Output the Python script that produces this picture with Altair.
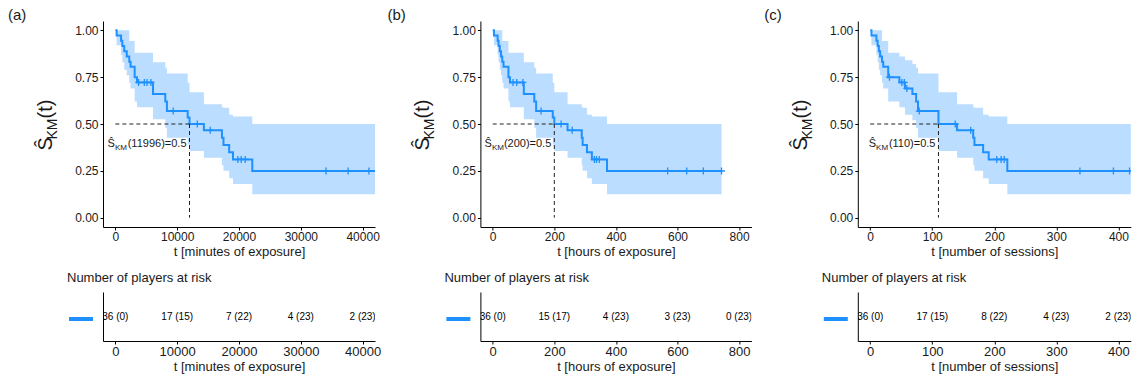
import altair as alt
import pandas as pd

FONT = "Liberation Sans"
BLUE = "#1E90FF"
INK = "#1a1a1a"

# ---------------- data ----------------
PANEL_LABELS = ["(a)", "(b)", "(c)"]
X_TITLES = ["t [minutes of exposure]", "t [hours of exposure]", "t [number of sessions]"]
X_TICKS = [[0, 10000, 20000, 30000, 40000], [0, 200, 400, 600, 800], [0, 100, 200, 300, 400]]
MEDIANS = [11996, 200, 110]

# panel (a): minutes of exposure
A_T = [0, 205, 920, 1125, 1430, 1840, 2250, 2455, 3120, 3500, 6090, 8080, 8340, 11700, 11996,
       14320, 17240, 17490, 18410, 19030, 22150, 44000]
A_S = [1.000, 0.972, 0.944, 0.917, 0.889, 0.861, 0.833, 0.806, 0.750, 0.722, 0.660, 0.620, 0.569,
       0.535, 0.500, 0.466, 0.427, 0.388, 0.349, 0.311, 0.249, 0.249]
A_LO = [1.000, 0.920, 0.870, 0.830, 0.790, 0.760, 0.720, 0.690, 0.620, 0.590, 0.525, 0.480, 0.427,
        0.390, 0.356, 0.320, 0.280, 0.250, 0.210, 0.180, 0.125, 0.125]
A_HI = [1.000, 1.000, 1.000, 1.000, 1.000, 1.000, 0.943, 0.943, 0.880, 0.880, 0.830, 0.800, 0.770,
        0.720, 0.670, 0.605, 0.590, 0.587, 0.550, 0.540, 0.500, 0.500]
A_CT = [3765, 4685, 5115, 5760, 9360, 13250, 15350, 19820, 20360, 21000, 34070, 37650, 41020]
A_CS = [0.722, 0.722, 0.722, 0.722, 0.569, 0.500, 0.466, 0.311, 0.311, 0.311, 0.249, 0.249, 0.249]
A_RISK = ["36 (0)", "17 (15)", "7 (22)", "4 (23)", "2 (23)"]

# panel (b): hours of exposure
B_T = [0, 4, 16, 19, 23, 27, 31, 35, 51, 56, 101, 135, 141, 195, 200, 243, 289, 292, 306, 322,
       371, 743]
B_S = [1.000, 0.972, 0.944, 0.917, 0.889, 0.861, 0.833, 0.806, 0.750, 0.722, 0.660, 0.620, 0.569,
       0.535, 0.500, 0.466, 0.427, 0.388, 0.349, 0.311, 0.249, 0.249]
B_LO = [1.000, 0.920, 0.870, 0.830, 0.790, 0.760, 0.720, 0.690, 0.620, 0.590, 0.525, 0.480, 0.427,
        0.390, 0.356, 0.320, 0.280, 0.250, 0.210, 0.180, 0.125, 0.125]
B_HI = [1.000, 1.000, 1.000, 1.000, 1.000, 1.000, 0.943, 0.943, 0.880, 0.880, 0.830, 0.800, 0.770,
        0.720, 0.670, 0.605, 0.590, 0.587, 0.550, 0.540, 0.500, 0.500]
B_CT = [66, 78, 98, 157, 222, 258, 330, 337, 346, 568, 630, 684, 743]
B_CS = [0.722, 0.722, 0.722, 0.569, 0.500, 0.466, 0.311, 0.311, 0.311, 0.249, 0.249, 0.249, 0.249]
B_RISK = ["36 (0)", "15 (17)", "4 (23)", "3 (23)", "0 (23)"]

# panel (c): number of sessions
C_T = [0, 2, 10, 12, 14, 16, 19, 21, 29, 47, 56, 68, 74, 77, 110, 140, 166, 168, 182, 191, 221,
       440]
C_S = [1.000, 0.972, 0.944, 0.917, 0.889, 0.861, 0.833, 0.806, 0.750, 0.722, 0.690, 0.660, 0.620,
       0.569, 0.500, 0.466, 0.427, 0.388, 0.349, 0.311, 0.249, 0.249]
C_LO = [1.000, 0.920, 0.870, 0.830, 0.790, 0.760, 0.720, 0.690, 0.620, 0.590, 0.550, 0.520, 0.480,
        0.427, 0.356, 0.320, 0.280, 0.250, 0.210, 0.180, 0.125, 0.125]
C_HI = [1.000, 1.000, 1.000, 1.000, 1.000, 1.000, 0.943, 0.943, 0.880, 0.860, 0.840, 0.820, 0.800,
        0.770, 0.670, 0.605, 0.590, 0.587, 0.550, 0.540, 0.500, 0.500]
C_CT = [31, 51, 55, 59, 79, 137, 162, 204, 211, 216, 338, 392, 418]
C_CS = [0.750, 0.722, 0.722, 0.690, 0.569, 0.500, 0.466, 0.311, 0.311, 0.311, 0.249, 0.249, 0.249]
C_RISK = ["36 (0)", "17 (15)", "8 (22)", "4 (23)", "2 (23)"]

STEPS = [(A_T, A_S, A_LO, A_HI), (B_T, B_S, B_LO, B_HI), (C_T, C_S, C_LO, C_HI)]
CENS = [(A_CT, A_CS), (B_CT, B_CS), (C_CT, C_CS)]
RISK = [A_RISK, B_RISK, C_RISK]

# ---------------- layout (pixels / axis ranges) ----------------
X_DOMAINS = [[-2000, 42000], [-40, 840], [-20, 420]]
WIDTHS = [272, 271, 273]
KM_H = 206
RISK_H = 49
LABEL_X = [-95, -93, -93.5]
PANEL_STEP = 377.4

AW = {"(": .333, ")": .333, "=": .584, ".": .278, " ": .278, "K": .667, "M": .833}


def tw(s, size):
    return sum(AW.get(ch, .556) for ch in s) * size


def panel(i):
    t, s, lo, hi = STEPS[i]
    steps = pd.DataFrame({"t": t, "s": s, "lo": lo, "hi": hi})
    ct, cs = CENS[i]
    cens = pd.DataFrame({"t": ct, "s": cs})
    med = MEDIANS[i]
    mdf = pd.DataFrame({"x0": [0, med], "x1": [med, med], "y0": [0.5, 0.5], "y1": [0.5, 0.0]})
    adf = pd.DataFrame({"t": [med], "s": [0.5]})
    one = pd.DataFrame({"k": [0]})

    xsc = alt.Scale(domain=X_DOMAINS[i], nice=False, zero=False)
    ysc = alt.Scale(domain=[-0.05, 1.05], nice=False, zero=False)
    xax = alt.Axis(values=X_TICKS[i], title=X_TITLES[i], format="d", labelFontSize=12,
                   titleFontSize=13, tickSize=3, labelPadding=1, titlePadding=3)
    yax = alt.Axis(values=[0, 0.25, 0.5, 0.75, 1.0], format=".2f", title=None, labelFontSize=12,
                   tickSize=3, labelPadding=2)

    def X(f):
        return alt.X(f, scale=xsc, axis=xax)

    def Y(f):
        return alt.Y(f, scale=ysc, axis=yax)

    band = alt.Chart(steps).mark_area(interpolate="step-after", color=BLUE, opacity=0.3,
                                      clip=True).encode(x=X("t:Q"), y=Y("lo:Q"), y2="hi:Q")
    line = alt.Chart(steps).mark_line(interpolate="step-after", color=BLUE, strokeWidth=2,
                                      clip=True).encode(x=X("t:Q"), y=Y("s:Q"))
    cmark = alt.Chart(cens).mark_point(shape="M-1,0H1M0,-1V1", size=49, filled=False,
                                       strokeWidth=1.3, color=BLUE, opacity=1,
                                       clip=True).encode(x=X("t:Q"), y=Y("s:Q"))
    mrule = alt.Chart(mdf).mark_rule(color="#222222", strokeWidth=1, strokeDash=[4, 3]).encode(
        x=X("x0:Q"), x2="x1:Q", y=Y("y0:Q"), y2="y1:Q")

    main = f"({med})=0.5"
    w_main = tw(main, 11)
    w_km = tw("KM", 8)
    ann_main = alt.Chart(adf).mark_text(text=main, fontSize=11, font=FONT, color=INK, align="right",
                                        baseline="alphabetic", dx=-3, dy=23).encode(
        x=X("t:Q"), y=Y("s:Q"))
    ann_km = alt.Chart(adf).mark_text(text="KM", fontSize=8, font=FONT, color=INK, align="right",
                                      baseline="alphabetic", dx=-3 - w_main, dy=25.5).encode(
        x=X("t:Q"), y=Y("s:Q"))
    ann_s = alt.Chart(adf).mark_text(text="Ŝ", fontSize=11, font=FONT, color=INK, align="right",
                                     baseline="alphabetic", dx=-3 - w_main - w_km, dy=23).encode(
        x=X("t:Q"), y=Y("s:Q"))

    # rotated y-axis title  Ŝ_KM(t)
    y0 = KM_H / 2 + 26.6
    ts = alt.Chart(one).mark_text(text="Ŝ", fontSize=20, font=FONT, color=INK, angle=270,
                                  align="left", baseline="alphabetic").encode(
        x=alt.value(-51), y=alt.value(y0))
    y1 = y0 - tw("S", 20)
    tk = alt.Chart(one).mark_text(text="KM", fontSize=14, font=FONT, color=INK, angle=270,
                                  align="left", baseline="alphabetic").encode(
        x=alt.value(-46), y=alt.value(y1))
    y2 = y1 - tw("KM", 14)
    tt = alt.Chart(one).mark_text(text="(t)", fontSize=20, font=FONT, color=INK, angle=270,
                                  align="left", baseline="alphabetic").encode(
        x=alt.value(-51), y=alt.value(y2))

    plab = alt.Chart(one).mark_text(text=PANEL_LABELS[i], fontSize=15, font=FONT, color=INK,
                                    align="left", baseline="top").encode(
        x=alt.value(LABEL_X[i]), y=alt.value(-13.5))

    km = alt.layer(band, line, cmark, mrule, ann_main, ann_km, ann_s, ts, tk, tt, plab).properties(
        width=WIDTHS[i], height=KM_H)

    # risk table
    rdf = pd.DataFrame({"t": X_TICKS[i], "lab": RISK[i], "strata": ["All"] * 5})
    rxax = alt.Axis(values=X_TICKS[i], title=X_TITLES[i], format="d", labelFontSize=13,
                    titleFontSize=13, tickSize=3, labelPadding=1, titlePadding=2)
    ryax = alt.Axis(labels=False, ticks=False, title=None, domain=True)
    rx = alt.X("t:Q", scale=xsc, axis=rxax)
    ry = alt.Y("strata:N", axis=ryax)
    txt = alt.Chart(rdf).mark_text(fontSize=10, font=FONT, color="black", clip=True).encode(
        x=rx, y=ry, text="lab:N")
    key = alt.Chart(rdf).mark_line(opacity=0).encode(
        x=rx, y=ry,
        color=alt.Color("strata:N", scale=alt.Scale(range=[BLUE]),
                        legend=alt.Legend(orient="none", legendX=-36, legendY=13, title=None,
                                          symbolType="stroke", symbolStrokeWidth=4,
                                          symbolSize=576, symbolOpacity=1, labelExpr="''",
                                          padding=0, labelFontSize=1, labelOffset=0)))
    risk = alt.layer(txt, key).properties(
        width=WIDTHS[i], height=RISK_H,
        title=alt.TitleParams("Number of players at risk", anchor="start", fontSize=13,
                              fontWeight="normal", font=FONT, color=INK, offset=7))

    return alt.vconcat(km, risk, spacing=65, bounds="flush").resolve_scale(
        x="independent", y="independent", color="independent")


chart = alt.hconcat(panel(0), panel(1), panel(2), spacing=PANEL_STEP, bounds="flush").resolve_scale(
    x="independent", y="independent", color="independent").resolve_legend(
    color="independent").properties(
    padding={"left": 8, "top": 7, "right": 5, "bottom": 5}
).configure_view(stroke=None).configure_axis(
    domainColor="black", tickColor="black", labelColor=INK, titleColor=INK, labelFont=FONT,
    titleFont=FONT, titleFontWeight="normal", grid=False
)

chart.save("out.html", embed_options={"renderer": "svg", "actions": False})
